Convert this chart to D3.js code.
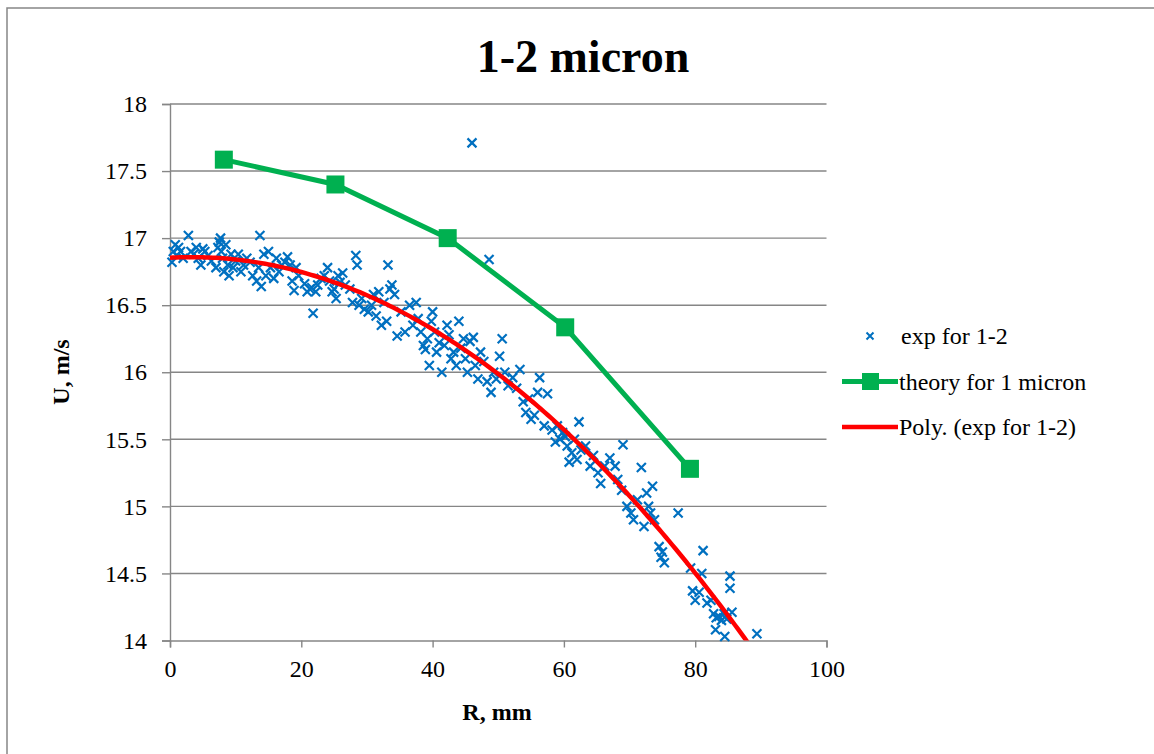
<!DOCTYPE html>
<html><head><meta charset="utf-8">
<script src="https://cdn.jsdelivr.net/npm/d3@7"></script>
<style>body{margin:0;background:#fff;} svg{display:block;} text{font-family:"Liberation Serif","Times New Roman",serif;}</style>
</head><body>
<svg id="c" width="1154" height="754"></svg>
<script>
const title = "1-2 micron";
const xTicks = [0, 20, 40, 60, 80, 100];
const yTicks = [14, 14.5, 15, 15.5, 16, 16.5, 17, 17.5, 18];
const theoryR = [8.2, 25.2, 42.3, 60.2, 79.2];
const theoryU = [17.585, 17.40, 17.00, 16.335, 15.28];
const expData = [
[0.3,16.82],[0.5,16.9],[0.8,16.95],[1.0,16.87],[1.3,16.93],[1.6,16.9],[2.0,16.85],[2.8,17.02],[3.2,16.9],[3.6,16.88],
[4.0,16.93],[4.3,16.85],[4.7,16.8],[5.0,16.92],[5.3,16.9],[5.8,16.87],[6.3,16.83],[7.0,16.78],[7.3,16.93],[7.5,16.97],
[7.7,17.0],[7.8,16.9],[8.0,16.85],[8.2,16.75],[8.5,16.95],[8.8,16.8],[9.0,16.72],[9.3,16.88],[9.6,16.78],[10.0,16.83],
[10.4,16.88],[10.8,16.75],[11.2,16.8],[11.7,16.85],[12.2,16.82],[12.6,16.72],[13.2,16.68],[13.5,16.78],[13.7,17.02],[13.9,16.64],
[14.3,16.88],[14.6,16.72],[15.0,16.9],[15.3,16.78],[15.8,16.7],[16.2,16.85],[16.6,16.75],[17.0,16.8],[17.5,16.82],[17.9,16.86],
[18.3,16.8],[18.6,16.68],[18.9,16.61],[19.2,16.78],[19.6,16.72],[20.5,16.66],[20.9,16.6],[21.3,16.62],[21.6,16.63],[21.8,16.44],
[22.2,16.6],[22.5,16.65],[23.0,16.7],[23.5,16.72],[24.0,16.78],[24.3,16.68],[24.7,16.6],[25.0,16.62],[25.3,16.55],[25.6,16.72],
[25.9,16.67],[26.3,16.74],[26.7,16.65],[27.4,16.62],[27.8,16.52],[28.3,16.87],[28.5,16.8],[28.8,16.5],[29.2,16.55],[29.6,16.47],
[30.2,16.45],[30.7,16.5],[31.0,16.58],[31.4,16.42],[31.8,16.6],[32.2,16.35],[32.6,16.52],[33.0,16.38],[33.2,16.8],[33.5,16.62],
[33.8,16.65],[34.2,16.58],[34.6,16.27],[35.2,16.45],[35.8,16.3],[36.5,16.5],[37.0,16.35],[37.5,16.52],[37.8,16.4],[38.2,16.3],
[38.6,16.2],[38.9,16.17],[39.2,16.25],[39.5,16.05],[39.8,16.38],[40.0,16.45],[40.3,16.3],[40.6,16.15],[41.0,16.22],[41.4,16.0],
[41.8,16.2],[42.2,16.35],[42.5,16.28],[42.8,16.1],[43.2,16.15],[43.6,16.05],[44.0,16.38],[44.3,16.18],[44.7,16.25],[45.0,16.1],
[45.3,16.0],[45.7,16.23],[46.0,17.71],[46.2,16.26],[46.5,16.05],[46.9,15.95],[47.3,16.15],[47.8,16.08],[48.3,15.93],[48.6,16.84],
[48.9,15.85],[49.3,16.0],[49.7,15.95],[50.2,16.12],[50.6,16.25],[51.0,16.0],[51.5,15.9],[52.2,15.96],[52.8,15.88],[53.3,16.02],
[53.8,15.78],[54.2,15.7],[54.6,15.8],[55.0,15.65],[55.5,15.68],[56.0,15.85],[56.3,15.96],[57.0,15.6],[57.5,15.84],[58.2,15.57],
[58.7,15.48],[59.0,15.6],[59.4,15.5],[59.8,15.55],[60.2,15.52],[60.5,15.45],[60.8,15.33],[61.2,15.4],[61.6,15.5],[62.0,15.35],
[62.3,15.63],[62.6,15.42],[63.3,15.45],[64.0,15.3],[64.5,15.38],[65.2,15.25],[65.6,15.17],[66.2,15.3],[67.0,15.36],[67.8,15.3],
[68.2,15.2],[68.8,15.12],[69.0,15.46],[69.6,15.0],[70.2,14.95],[70.6,14.9],[71.2,15.05],[71.8,15.29],[72.2,14.85],[72.6,15.1],
[72.9,15.0],[73.2,14.95],[73.5,15.15],[73.8,14.9],[74.5,14.7],[74.8,14.62],[75.0,14.66],[75.3,14.58],[77.4,14.95],[79.3,14.54],
[79.6,14.37],[80.0,14.3],[80.6,14.36],[81.0,14.5],[81.2,14.67],[81.8,14.28],[82.4,14.3],[82.8,14.2],[83.2,14.17],[83.6,14.18],
[84.0,14.15],[84.4,14.2],[84.8,14.16],[83.1,14.08],[84.5,14.03],[85.3,14.48],[85.3,14.39],[85.6,14.21],[89.4,14.05]
];
const legendLabels = ["exp for 1-2", "theory for 1 micron", "Poly. (exp for 1-2)"];

const svg = d3.select("#c");
const x = d3.scaleLinear().domain([0, 100]).range([170, 826.5]);
const y = d3.scaleLinear().domain([14, 18]).range([640.5, 104]);
const grey = "#868686";
const serif = '"Liberation Serif", "Times New Roman", serif';

// outer border
svg.append("rect").attr("x", 7).attr("y", 8).attr("width", 1160).attr("height", 760)
  .attr("fill", "none").attr("stroke", grey).attr("stroke-width", 1.5);

// gridlines
svg.append("g").selectAll("line").data(yTicks.filter(d => d > 14)).join("line")
  .attr("x1", x(0)).attr("x2", x(100)).attr("y1", d => y(d)).attr("y2", d => y(d))
  .attr("stroke", grey).attr("stroke-width", 1.4);

// y axis
const yAxis = svg.append("g").attr("transform", `translate(${x(0)},0)`)
  .call(d3.axisLeft(y).tickValues(yTicks).tickSize(8).tickPadding(15).tickFormat(d => d3.format("")(d)));
// x axis
const xAxis = svg.append("g").attr("transform", `translate(0,${y(14)})`)
  .call(d3.axisBottom(x).tickValues(xTicks).tickSize(7).tickPadding(12));
[yAxis, xAxis].forEach(a => {
  a.attr("font-family", serif).attr("font-size", 24);
  a.select(".domain").attr("stroke", grey).attr("stroke-width", 1.4);
  a.selectAll(".tick line").attr("stroke", grey).attr("stroke-width", 1.4);
  a.selectAll(".tick text").attr("fill", "#000").attr("font-family", serif)
    .style("font-size", "24px").style("font-family", serif);
});

// clip
svg.append("clipPath").attr("id", "pc").append("rect")
  .attr("x", x(0)).attr("y", y(18) - 20).attr("width", x(100) - x(0)).attr("height", y(14) - y(18) + 20);

// scatter markers
const blue = "#0070c0";
function xMark(g, cx, cy, s, w) {
  g.append("path").attr("d", `M${cx - s},${cy - s}L${cx + s},${cy + s}M${cx - s},${cy + s}L${cx + s},${cy - s}`)
    .attr("stroke", blue).attr("stroke-width", w).attr("fill", "none");
}
const sg = svg.append("g");
expData.forEach(d => xMark(sg, x(d[0]), y(d[1]), 4.5, 2.2));

// polynomial trend (least squares, order 2) from exp data
function polyfit(data, order) {
  const n = order + 1;
  const A = Array.from({length: n}, () => new Array(n + 1).fill(0));
  data.forEach(([r, u]) => {
    for (let i = 0; i < n; i++) {
      for (let j = 0; j < n; j++) A[i][j] += Math.pow(r, i + j);
      A[i][n] += u * Math.pow(r, i);
    }
  });
  for (let i = 0; i < n; i++) {
    let p = i;
    for (let k = i + 1; k < n; k++) if (Math.abs(A[k][i]) > Math.abs(A[p][i])) p = k;
    [A[i], A[p]] = [A[p], A[i]];
    for (let k = i + 1; k < n; k++) {
      const f = A[k][i] / A[i][i];
      for (let j = i; j <= n; j++) A[k][j] -= f * A[i][j];
    }
  }
  const c = new Array(n).fill(0);
  for (let i = n - 1; i >= 0; i--) {
    let s = A[i][n];
    for (let j = i + 1; j < n; j++) s -= A[i][j] * c[j];
    c[i] = s / A[i][i];
  }
  return c;
}
const coef = polyfit(expData, 2);
const trendR = d3.range(0, 95.01, 0.5);
const trend = trendR.map(r => [r, coef.reduce((s, c, i) => s + c * Math.pow(r, i), 0)]);
svg.append("path").datum(trend).attr("clip-path", "url(#pc)")
  .attr("d", d3.line().x(d => x(d[0])).y(d => y(d[1])))
  .attr("fill", "none").attr("stroke", "#ff0000").attr("stroke-width", 4.5);

// theory line
const green = "#00b050";
const th = theoryR.map((r, i) => [r, theoryU[i]]);
svg.append("path").datum(th).attr("d", d3.line().x(d => x(d[0])).y(d => y(d[1])))
  .attr("fill", "none").attr("stroke", green).attr("stroke-width", 5);
svg.append("g").selectAll("rect").data(th).join("rect")
  .attr("x", d => x(d[0]) - 9).attr("y", d => y(d[1]) - 9).attr("width", 18).attr("height", 18).attr("fill", green);

// title
svg.append("text").attr("x", 583).attr("y", 72).attr("text-anchor", "middle")
  .style("font-size", "46px").style("font-weight", "bold").text(title);
// axis titles
svg.append("text").attr("x", 497).attr("y", 720).attr("text-anchor", "middle")
  .style("font-size", "24px").style("font-weight", "bold").text("R, mm");
svg.append("text").attr("transform", "translate(69,372) rotate(-90)").attr("text-anchor", "middle")
  .style("font-size", "24px").style("font-weight", "bold").text("U, m/s");

// legend
const lg = svg.append("g");
const ly = [336, 381.5, 427];
lg.append("path").attr("d", `M866.5,${ly[0] - 3.5}L873.5,${ly[0] + 3.5}M866.5,${ly[0] + 3.5}L873.5,${ly[0] - 3.5}`)
  .attr("stroke", blue).attr("stroke-width", 2);
lg.append("line").attr("x1", 842).attr("x2", 898).attr("y1", ly[1]).attr("y2", ly[1]).attr("stroke", green).attr("stroke-width", 5);
lg.append("rect").attr("x", 862).attr("y", ly[1] - 8.5).attr("width", 17).attr("height", 17).attr("fill", green);
lg.append("line").attr("x1", 842).attr("x2", 898).attr("y1", ly[2]).attr("y2", ly[2]).attr("stroke", "#ff0000").attr("stroke-width", 4.5);
lg.selectAll("text").data(legendLabels).join("text")
  .attr("x", (d, i) => i === 0 ? 901 : 899).attr("y", (d, i) => ly[i] + 8)
  .style("font-size", "24px").text(d => d);
</script>
</body></html>
